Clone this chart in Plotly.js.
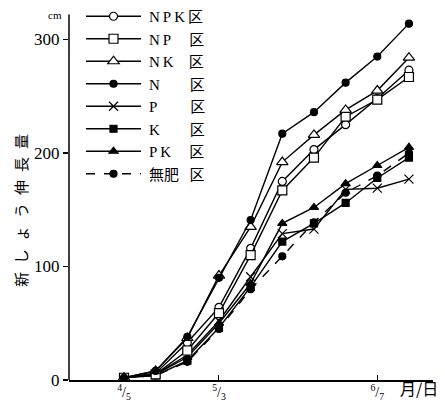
<!DOCTYPE html>
<html><head><meta charset="utf-8">
<script src="https://cdn.plot.ly/plotly-3.0.1.min.js"></script>
<style>html,body{margin:0;padding:0;background:#fff}#c{width:445px;height:403px}</style>
</head><body><div id="c"></div>
<script>
// sampling points (index) and tick labels
const xIdx = [0, 1, 2, 3, 4, 5, 6, 7, 8, 9];
const tickPos = [0, 3, 8];
const tickLabels = ["<sup>4</sup>/<sub>5</sub>", "<sup>5</sup>/<sub>3</sub>", "<sup>6</sup>/<sub>7</sub>"];
const T = '\u2009', E = '\u2002', P0 = '\u2009';
const seriesNames = [
  P0 + 'N' + T + 'P' + T + 'K' + T + '区',
  P0 + 'N' + T + 'P' + E + E + T + '区',
  P0 + 'N' + T + 'K' + E + E + '区',
  P0 + 'N' + E + E + E + E + '区',
  P0 + 'P' + E + E + E + E + T + '区',
  P0 + 'K' + E + E + E + E + '区',
  P0 + 'P' + T + 'K' + E + E + T + '区',
  P0 + '無肥' + E + T + '区'
];
// shoot growth (cm)
const NPK = [2, 6, 33, 64, 116, 175, 203, 225, 248, 273];
const NP  = [2, 5, 26, 59, 110, 167, 196, 232, 247, 267];
const NK  = [2, 8, 37, 92, 135, 192, 216, 238, 255, 284];
const N   = [2, 8, 38, 90, 141, 217, 236, 262, 285, 314];
const P   = [2, 5, 22, 52, 91, 129, 133, 168, 169, 177];
const K   = [2, 4, 17, 46, 82, 122, 138, 156, 178, 196];
const PK  = [2, 5, 20, 50, 85, 138, 152, 173, 189, 205];
const MUHI= [2, 4, 16, 45, 80, 109, 139, 165, 180, 200];

const styles = [
  {symbol:'circle', color:'#fff', size:8, dash:'solid'},
  {symbol:'square', color:'#fff', size:9, dash:'solid'},
  {symbol:'triangle-up', color:'#fff', size:10, dash:'solid'},
  {symbol:'circle', color:'#000', size:7, dash:'solid'},
  {symbol:'x-thin', color:'#000', size:9, dash:'solid'},
  {symbol:'square', color:'#000', size:7, dash:'solid'},
  {symbol:'triangle-up', color:'#000', size:8, dash:'solid'},
  {symbol:'circle', color:'#000', size:7, dash:'dash'}
];
const values = [NPK, NP, NK, N, P, K, PK, MUHI];
const drawOrder = [7, 5, 4, 6, 0, 1, 2, 3];
const traces = values.map((v, i) => ({
  x: xIdx, y: v, name: seriesNames[i], type: 'scatter', mode: 'lines+markers',
  line: {color: '#000', width: 1.4, dash: styles[i].dash},
  marker: {symbol: styles[i].symbol, color: styles[i].color, size: styles[i].size,
           line: {color: '#000', width: 1.2}},
  legendrank: i + 1
}));
const ordered = drawOrder.map(i => traces[i]);

const serif = 'Liberation Serif, "Noto Sans CJK JP", serif';
const S = '\u2004';
const layout = {
  width: 445, height: 403,
  margin: {l: 69, r: 12, t: 4, b: 23},
  paper_bgcolor: '#fff', plot_bgcolor: '#fff',
  showlegend: true,
  font: {family: serif, color: '#000', size: 16},
  legend: {x: 0.033, y: 1.0, xanchor: 'left', yanchor: 'top', bgcolor: 'rgba(0,0,0,0)',
           font: {family: serif, size: 15, color: '#000'}, itemwidth: 55, tracegroupgap: 0,
           traceorder: 'normal', borderwidth: 0},
  xaxis: {range: [-1.737, 9.76], showgrid: false, zeroline: false, showline: true,
          linecolor: '#000', linewidth: 1.5, ticks: 'inside', ticklen: 5, tickcolor: '#000',
          tickvals: tickPos, ticktext: tickLabels, tickfont: {size: 14, family: serif},
          ticklabelstandoff: -1},
  yaxis: {range: [0, 331.3], showgrid: false, zeroline: false, showline: false,
          ticks: 'outside', ticklen: 5, tickcolor: '#000', tickwidth: 1.2,
          tickvals: [0, 100, 200, 300], tickfont: {size: 17, family: serif}},
  shapes: [
    {type: 'line', xref: 'paper', x0: 0, x1: 0, yref: 'y', y0: 0, y1: 322,
     line: {color: '#000', width: 1.5}}
  ],
  annotations: [
    {text: 'cm', xref: 'paper', yref: 'paper', x: -0.038, y: 0.971, xanchor: 'center', yanchor: 'middle',
     showarrow: false, font: {size: 11, family: serif}},
    {text: '月/日', xref: 'paper', yref: 'paper', x: 1.019, y: -0.022, xanchor: 'right', yanchor: 'middle',
     showarrow: false, font: {size: 16, family: '"Noto Sans CJK JP", serif'}},
    {text: ['新','し','ょ','う','伸','長','量'].join(S + '\u2009'), xref: 'paper', yref: 'paper', x: -0.135, y: 0.452,
     textangle: -90, xanchor: 'center', yanchor: 'middle', showarrow: false,
     font: {size: 15, family: '"Noto Sans CJK JP", serif'}}
  ]
};
Plotly.newPlot('c', ordered, layout, {displayModeBar: false, staticPlot: true}).then(gd => {
  // nudge legend up slightly to match reference row positions
  const lg = gd.querySelector('.legend');
  if (lg) {
    const t = lg.getAttribute('transform');
    const m = /translate\(([-\d.]+),\s*([-\d.]+)\)/.exec(t);
    if (m) lg.setAttribute('transform', 'translate(' + m[1] + ',' + (parseFloat(m[2]) - 4) + ')');
  }
});
</script></body></html>
